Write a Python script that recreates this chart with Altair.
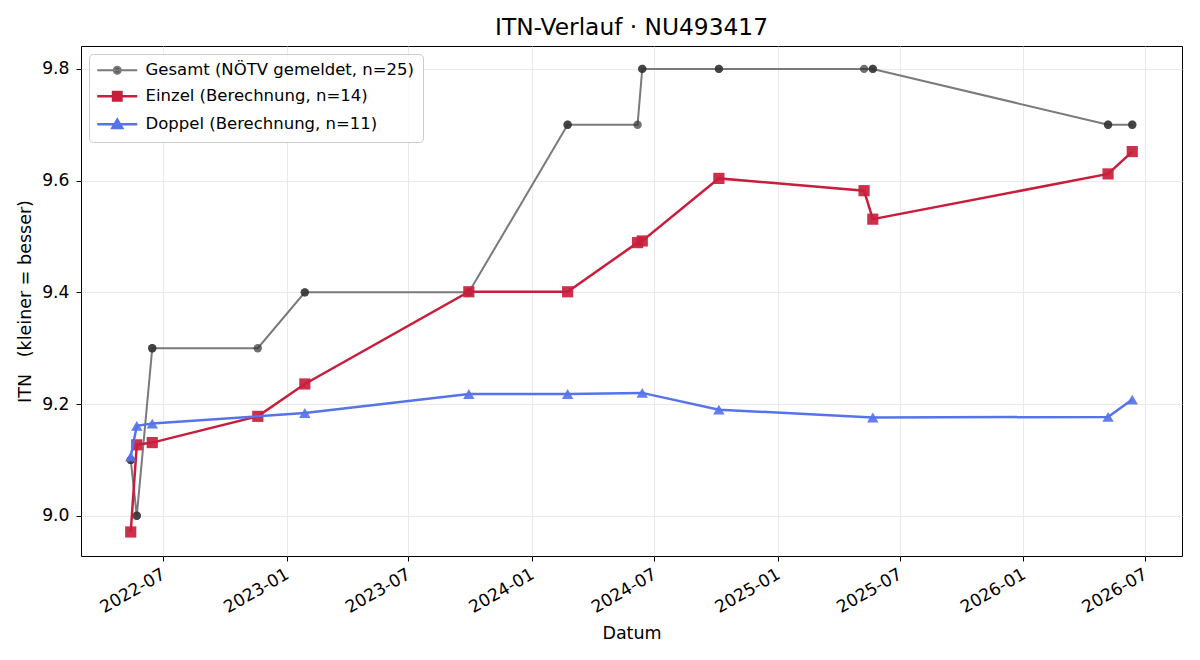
import altair as alt
import pandas as pd

title_text = "ITN-Verlauf · NU493417"
x_title = "Datum"
y_title = "ITN\u00a0\u00a0 (kleiner = besser)"

series_names = [
    "Gesamt (NÖTV gemeldet, n=25)",
    "Einzel (Berechnung, n=14)",
    "Doppel (Berechnung, n=11)",
]

gesamt_dates = [
    "2022-05-14", "2022-05-14", "2022-05-23", "2022-05-23", "2022-06-15", "2022-06-15",
    "2022-11-19", "2023-01-28", "2023-01-28", "2023-09-29", "2023-09-29",
    "2024-02-23", "2024-02-23", "2024-06-06", "2024-06-13", "2024-06-13",
    "2024-10-05", "2024-10-05", "2025-05-09", "2025-05-22", "2025-05-22",
    "2026-05-07", "2026-05-07", "2026-06-12", "2026-06-12",
]
gesamt_itn = [
    9.1, 9.1, 9.0, 9.0, 9.3, 9.3,
    9.3, 9.4, 9.4, 9.4, 9.4,
    9.7, 9.7, 9.7, 9.8, 9.8,
    9.8, 9.8, 9.8, 9.8, 9.8,
    9.7, 9.7, 9.7, 9.7,
]

einzel_dates = [
    "2022-05-14", "2022-05-23", "2022-06-15", "2022-11-19", "2023-01-28", "2023-09-29",
    "2024-02-23", "2024-06-06", "2024-06-13", "2024-10-05", "2025-05-09", "2025-05-22",
    "2026-05-07", "2026-06-12",
]
einzel_itn = [8.971, 9.127, 9.131, 9.178, 9.236, 9.401, 9.401, 9.489, 9.492, 9.604, 9.582, 9.531, 9.612, 9.652]

doppel_dates = [
    "2022-05-14", "2022-05-23", "2022-06-15", "2023-01-28", "2023-09-29", "2024-02-23",
    "2024-06-13", "2024-10-05", "2025-05-22", "2026-05-07", "2026-06-12",
]
doppel_itn = [9.106, 9.161, 9.165, 9.184, 9.218, 9.218, 9.220, 9.190, 9.176, 9.177, 9.208]

x_tick_labels = ["2022-07", "2023-01", "2023-07", "2024-01", "2024-07",
                 "2025-01", "2025-07", "2026-01", "2026-07"]
y_ticks = [9.0, 9.2, 9.4, 9.6, 9.8]
x_domain = ["2022-03-01", "2026-08-25"]
y_domain = [8.928, 9.841]

line_colors = ["#7a7a7a", "#c81e3c", "#5673eb"]
marker_colors = ["#333333", "#c81e3c", "#5673eb"]
marker_opacity = [0.7, 0.92, 0.92]
line_widths = [2, 2.5, 2.5]
marker_shapes = ["circle", "square", "triangle-up"]
marker_sizes = [70, 125, 130]

# legend symbols: line + marker (custom paths, 7 px per unit at symbolSize 196)
legend_paths = [
    "M-2.857,0H2.857M0.5,0A0.5,0.5,0,1,1,-0.5,0A0.5,0.5,0,1,1,0.5,0Z",
    "M-2.857,0H2.857M-0.6,-0.6H0.6V0.6H-0.6Z",
    "M-2.857,0H2.857M0,-0.65L0.7,0.55H-0.7Z",
]
legend_fill = ["#555555", "#c81e3c", "#5673eb"]


def cond_expr(values):
    return (
        f"datum.value === '{series_names[0]}' ? '{values[0]}' : "
        f"(datum.value === '{series_names[1]}' ? '{values[1]}' : '{values[2]}')"
    )


def cond_num_expr(values):
    return (
        f"datum.value === '{series_names[0]}' ? {values[0]} : "
        f"(datum.value === '{series_names[1]}' ? {values[1]} : {values[2]})"
    )


legend_def = alt.Legend(
    orient="top-left",
    offset=8,
    padding=8,
    strokeColor="#cccccc",
    fillColor="rgba(255,255,255,0.85)",
    cornerRadius=4,
    labelFont="DejaVu Sans",
    labelFontSize=16.5,
    labelColor="black",
    labelLimit=0,
    symbolSize=196,
    symbolOffset=12,
    labelOffset=20,
    rowPadding=8,
    symbolType=alt.ExprRef(cond_expr(legend_paths)),
    symbolFillColor=alt.ExprRef(cond_expr(legend_fill)),
    symbolStrokeColor=alt.ExprRef(cond_expr(line_colors)),
    symbolStrokeWidth=alt.ExprRef(cond_num_expr(line_widths)),
    symbolOpacity=1,
)

x_enc = alt.X(
    "date:T",
    scale=alt.Scale(type="utc", domain=x_domain),
    axis=alt.Axis(
        values=[alt.DateTime(year=int(t[:4]), month=int(t[5:]), date=1, utc=True) for t in x_tick_labels],
        format="%Y-%m",
        labelAngle=-30,
        labelAlign="right",
        labelBaseline="top",
        labelPadding=4,
        labelOffset=-4,
        labelFlush=False,
        labelOverlap=False,
        titlePadding=9,
    ),
    title=x_title,
)
y_enc = alt.Y(
    "itn:Q",
    scale=alt.Scale(domain=y_domain, nice=False, zero=False),
    axis=alt.Axis(values=y_ticks, format=".1f", labelPadding=7, titlePadding=7),
    title=y_title,
)

all_dates = [gesamt_dates, einzel_dates, doppel_dates]
all_vals = [gesamt_itn, einzel_itn, doppel_itn]

layers = []
for i, name in enumerate(series_names):
    df = pd.DataFrame({"date": all_dates[i], "itn": all_vals[i], "series": name})
    base = alt.Chart(df)
    line = base.mark_line(strokeWidth=line_widths[i]).encode(
        x=x_enc,
        y=y_enc,
        color=alt.Color(
            "series:N",
            scale=alt.Scale(domain=series_names, range=line_colors),
            legend=legend_def,
            title=None,
        ),
    )
    pts = base.mark_point(
        filled=True,
        shape=marker_shapes[i],
        size=marker_sizes[i],
        color=marker_colors[i],
        opacity=marker_opacity[i],
        strokeWidth=0,
    ).encode(x=x_enc, y=y_enc)
    layers += [line, pts]

chart = (
    alt.layer(*layers)
    .properties(
        width=1101,
        height=510,
        autosize=alt.AutoSizeParams(type="none"),
        padding={"left": 81, "right": 18, "top": 46, "bottom": 104},
        title=alt.Title(title_text, fontSize=23.3, font="DejaVu Sans", fontWeight="normal",
                        color="black", offset=6, anchor="middle"),
        background="white",
    )
    .configure_view(stroke="black", strokeWidth=1)
    .configure_axis(
        grid=True,
        gridColor="#e4e4e4",
        gridWidth=0.8,
        domain=False,
        tickColor="black",
        tickSize=5,
        labelColor="black",
        labelFont="DejaVu Sans",
        labelFontSize=17.2,
        titleFont="DejaVu Sans",
        titleFontSize=17.5,
        titleFontWeight="normal",
        titleColor="black",
    )
)

chart.save("out.html", embed_options={"renderer": "svg", "actions": False})
